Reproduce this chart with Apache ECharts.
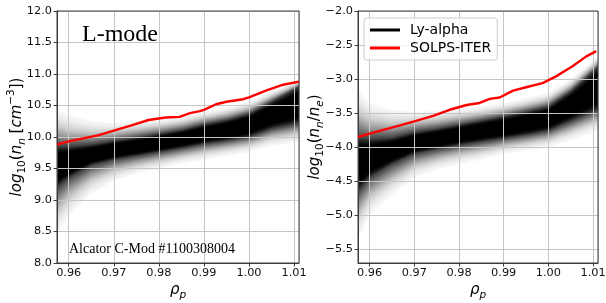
<!DOCTYPE html>
<html>
<head>
<meta charset="utf-8">
<script src="https://cdn.jsdelivr.net/npm/echarts@6/dist/echarts.min.js"></script>
<style>
html,body{margin:0;padding:0;background:#fff;}
#chart{width:606px;height:303px;}
</style>
</head>
<body>
<div id="chart"></div>
<script>
// ---------- data ----------
// x range (rho_p)
const xMin = 0.9574, xMax = 1.0111;

// Left panel: Ly-alpha density band (log10 n_n)
const bandXL      = [0.9574, 0.960, 0.965, 0.970, 0.975, 0.980, 0.985, 0.990, 0.995, 1.000, 1.005, 1.0111];
const bandDarkHiL = [9.85, 9.85, 9.88, 9.94, 9.99, 10.05, 10.11, 10.20, 10.27, 10.37, 10.56, 10.80];
const bandDarkLoL = [9.20, 9.35, 9.55, 9.64, 9.70, 9.76, 9.82, 9.89, 9.94, 10.00, 10.13, 10.22];
const bandFadeHiL = [10.45, 10.35, 10.25, 10.22, 10.25, 10.28, 10.33, 10.40, 10.47, 10.56, 10.73, 10.90];
const bandFadeLoL = [8.45, 8.75, 9.10, 9.30, 9.42, 9.50, 9.58, 9.64, 9.70, 9.76, 9.86, 9.92];

// Left panel: SOLPS-ITER
const solpsXL = [0.9574, 0.9600, 0.9667, 0.9700, 0.9741, 0.9777, 0.9815, 0.9846, 0.9869, 0.9891, 0.9900, 0.9927, 0.9950, 0.9987, 1.0000, 1.0039, 1.0076, 1.0111];
const solpsYL = [9.88, 9.93, 10.03, 10.10, 10.19, 10.27, 10.31, 10.32, 10.38, 10.41, 10.43, 10.52, 10.56, 10.60, 10.63, 10.74, 10.83, 10.88];

// Right panel: Ly-alpha density band (log10 n_n/n_e)
const bandXR      = [0.9574, 0.960, 0.965, 0.970, 0.975, 0.980, 0.985, 0.990, 0.995, 1.000, 1.005, 1.0111];
const bandDarkHiR = [-3.86, -3.88, -3.86, -3.78, -3.73, -3.67, -3.61, -3.55, -3.48, -3.40, -3.18, -2.82];
const bandDarkLoR = [-4.65, -4.45, -4.25, -4.10, -4.03, -3.97, -3.92, -3.87, -3.82, -3.76, -3.62, -3.45];
const bandFadeHiR = [-3.15, -3.35, -3.45, -3.48, -3.47, -3.44, -3.40, -3.35, -3.28, -3.20, -3.00, -2.66];
const bandFadeLoR = [-5.35, -5.00, -4.70, -4.45, -4.33, -4.25, -4.18, -4.10, -4.05, -4.00, -3.90, -3.75];

// Right panel: SOLPS-ITER
const solpsXR = [0.9574, 0.9600, 0.9668, 0.9700, 0.9742, 0.9779, 0.9817, 0.9846, 0.9869, 0.9891, 0.9921, 0.9950, 0.9987, 1.0017, 1.0054, 1.0084, 1.0107];
const solpsYR = [-3.85, -3.80, -3.68, -3.62, -3.54, -3.45, -3.38, -3.35, -3.29, -3.27, -3.17, -3.12, -3.06, -2.96, -2.81, -2.67, -2.59];

const seriesNames = ['Ly-alpha', 'SOLPS-ITER'];
const panelText = ['L-mode', 'Alcator C-Mod #1100308004'];

// ---------- chart ----------
const chart = echarts.init(document.getElementById('chart'), null, {renderer: 'canvas'});
const FONT = 'DejaVu Sans';
const gridColor = '#c6c6c6';
const spineColor = '#3c3c3c';

function fmtNum(d) {
  return function (v) {
    const s = Math.abs(v).toFixed(d);
    return (v < 0 ? '\u2212' : '') + s;
  };
}

const richMath = {
  i:  {fontFamily: FONT, fontStyle: 'italic', fontSize: 15, lineHeight: 22, verticalAlign: 'middle', color: '#000'},
  r:  {fontFamily: FONT, fontSize: 15, lineHeight: 22, verticalAlign: 'middle', color: '#000'},
  s:  {fontFamily: FONT, fontSize: 10.5, lineHeight: 11, verticalAlign: 'bottom', color: '#000'},
  si: {fontFamily: FONT, fontStyle: 'italic', fontSize: 10.5, lineHeight: 11, verticalAlign: 'bottom', color: '#000'},
  sp: {fontFamily: FONT, fontSize: 10.5, lineHeight: 11, verticalAlign: 'top', color: '#000'}
};

function xAxisCfg(gi) {
  return {
    type: 'value', gridIndex: gi, min: xMin, max: xMax, splitNumber: 5,
    name: '{i|ρ}{si|p}', nameLocation: 'middle', nameGap: 16, nameMoveOverlap: false,
    nameTextStyle: {rich: richMath},
    axisLine: {show: true, onZero: false, lineStyle: {color: spineColor, width: 1}},
    axisTick: {show: true, length: 3.5, lineStyle: {color: spineColor}},
    axisLabel: {show: true, fontFamily: FONT, fontSize: 11.3, color: '#111', margin: 5,
      showMinLabel: false, showMaxLabel: false, formatter: fmtNum(2)},
    splitLine: {show: true, lineStyle: {color: gridColor, width: 1}},
    z: 3
  };
}

function yAxisCfg(gi, opts) {
  return Object.assign({
    type: 'value', gridIndex: gi, nameLocation: 'middle', nameRotate: 90, nameMoveOverlap: false,
    nameTextStyle: {rich: richMath},
    axisLine: {show: true, onZero: false, lineStyle: {color: spineColor, width: 1}},
    axisTick: {show: true, length: 3.5, lineStyle: {color: spineColor}},
    axisLabel: {show: true, fontFamily: FONT, fontSize: 11.3, color: '#111', margin: 5,
      formatter: fmtNum(1)},
    splitLine: {show: true, lineStyle: {color: gridColor, width: 1}},
    z: 3
  }, opts);
}

// fade profile of the density band (style only):
// t = 0 at the middle of the dark core, 0.5 at the dark edge, 1 at the fade edge
const FADE_STEPS = 30;
function darkness(t) {
  if (t <= 0.3) return 1;
  const u = (t - 0.3) / 0.38;
  return Math.exp(-u * u);
}

function bandSeries(gi, xs, dHi, dLo, fHi, fLo) {
  const N = FADE_STEPS;
  const alphas = [];
  for (let k = 0; k <= N; k++) {
    const Dk = darkness(k / N);
    const Dout = k === N ? 0 : darkness((k + 1) / N);
    alphas[k] = Dout >= 1 ? 1 : 1 - (1 - Dk) / (1 - Dout);
  }
  function level(i, t, up) {
    const c = (dHi[i] + dLo[i]) / 2;
    const edge = up ? dHi[i] : dLo[i];
    const fade = up ? fHi[i] : fLo[i];
    return t <= 0.5 ? c + (edge - c) * (t / 0.5) : edge + (fade - edge) * ((t - 0.5) / 0.5);
  }
  return {
    type: 'custom', name: seriesNames[0], xAxisIndex: gi, yAxisIndex: gi,
    coordinateSystem: 'cartesian2d', clip: true, silent: true, z: 1,
    itemStyle: {color: '#000'},
    data: [[xs[0], dHi[0]]],
    renderItem: function (params, api) {
      const children = [];
      for (let k = N; k >= 1; k--) {
        const t = k / N;
        if (alphas[k] <= 0.001) continue;
        const pts = [];
        for (let i = 0; i < xs.length; i++) pts.push(api.coord([xs[i], level(i, t, true)]));
        for (let i = xs.length - 1; i >= 0; i--) pts.push(api.coord([xs[i], level(i, t, false)]));
        children.push({type: 'polygon', shape: {points: pts},
          style: {fill: '#000', opacity: Math.min(1, alphas[k])}});
        if (alphas[k] >= 1) break;
      }
      return {type: 'group', children: children};
    }
  };
}

function lineSeries(gi, xs, ys) {
  return {
    type: 'line', name: seriesNames[1], xAxisIndex: gi, yAxisIndex: gi,
    data: xs.map((x, i) => [x, ys[i]]),
    showSymbol: false, symbol: 'none', smooth: false, z: 5,
    lineStyle: {color: '#ff0000', width: 2.4},
    itemStyle: {color: '#ff0000'},
    silent: true, animation: false
  };
}

const option = {
  animation: false,
  backgroundColor: '#fff',
  grid: [
    {left: 57, top: 11, width: 242, height: 252, show: true, borderColor: spineColor, borderWidth: 1, z: 4,
      backgroundColor: 'transparent', containLabel: false, outerBoundsMode: 'none'},
    {left: 358, top: 11, width: 240, height: 252, show: true, borderColor: spineColor, borderWidth: 1, z: 4,
      backgroundColor: 'transparent', containLabel: false, outerBoundsMode: 'none'}
  ],
  xAxis: [xAxisCfg(0), xAxisCfg(1)],
  yAxis: [
    yAxisCfg(0, {min: 8, max: 12, interval: 0.5, nameGap: 29,
      name: '{i|log}{s|10}{r|(}{i|n}{si|n}{r| [}{i|cm}{sp|\u22123}{r|])}'}),
    yAxisCfg(1, {min: -5.7, max: -2.0, splitNumber: 7, nameGap: 32,
      axisLabel: {show: true, fontFamily: FONT, fontSize: 11.3, color: '#111', margin: 5,
        showMinLabel: false, formatter: fmtNum(1)},
      name: '{i|log}{s|10}{r|(}{i|n}{si|n}{r|/}{i|n}{si|e}{r|)}'})
  ],
  legend: {
    show: true, orient: 'vertical', left: 364, top: 18,
    padding: [5, 6, 5, 6], itemGap: 4, itemWidth: 30, itemHeight: 3,
    borderColor: '#cccccc', borderWidth: 1, borderRadius: 3,
    backgroundColor: 'rgba(255,255,255,0.8)',
    textStyle: {fontFamily: FONT, fontSize: 14, color: '#000', padding: [0, 0, 0, 5]},
    data: [
      {name: seriesNames[0], icon: 'rect', itemStyle: {color: '#000'}},
      {name: seriesNames[1], icon: 'rect', itemStyle: {color: '#ff0000'}}
    ],
    selectedMode: false
  },
  graphic: [
    {type: 'text', left: 82, top: 23, z: 10, silent: true,
      style: {text: panelText[0], fontFamily: 'Liberation Serif', fontSize: 24, fill: '#000'}},
    {type: 'text', left: 69, top: 242, z: 10, silent: true,
      style: {text: panelText[1], fontFamily: 'Liberation Serif', fontSize: 14, fill: '#000'}}
  ],
  series: [
    bandSeries(0, bandXL, bandDarkHiL, bandDarkLoL, bandFadeHiL, bandFadeLoL),
    lineSeries(0, solpsXL, solpsYL),
    bandSeries(1, bandXR, bandDarkHiR, bandDarkLoR, bandFadeHiR, bandFadeLoR),
    lineSeries(1, solpsXR, solpsYR)
  ]
};
chart.setOption(option);
</script>
</body>
</html>
